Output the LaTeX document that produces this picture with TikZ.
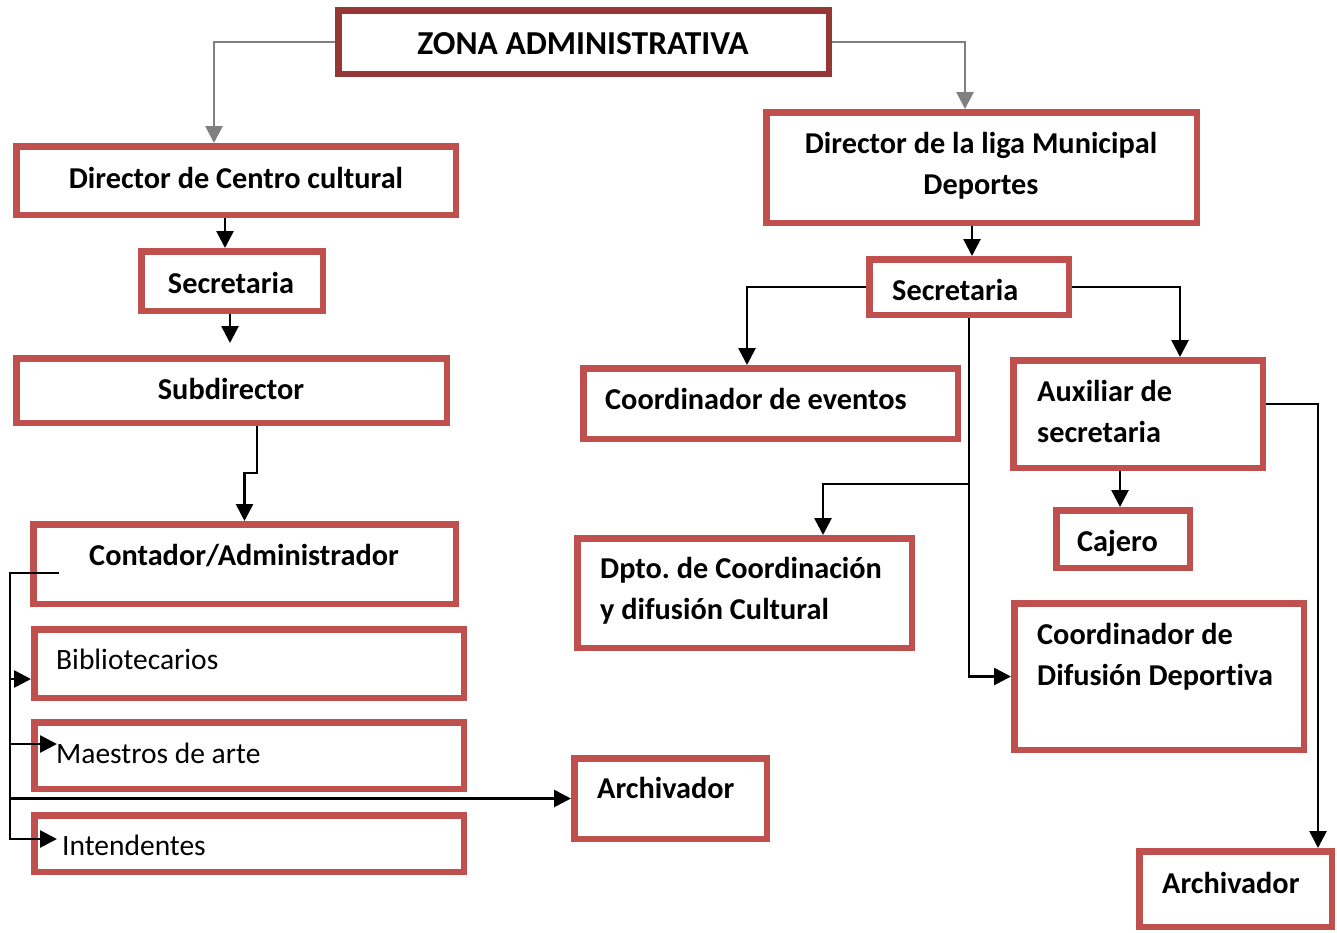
\documentclass[tikz,border=0pt]{standalone}
\usepackage{fontspec}
\setmainfont{Carlito}[Ligatures=NoCommon]
\usetikzlibrary{arrows.meta}
\definecolor{boxred}{HTML}{C0504D}
\definecolor{darkred}{HTML}{953735}
\definecolor{linegray}{HTML}{808080}
\frenchspacing
\begin{document}
\begin{tikzpicture}[x=1pt,y=-1pt,
    box/.style={draw=boxred, line width=6.5pt, inner sep=0pt},
    txt/.style={font=\fontsize{30.3}{41}\selectfont\bfseries, inner sep=0pt},
    plain/.style={font=\fontsize{29.5}{41}\selectfont, inner sep=0pt},
    arr/.style={line width=2.7pt, -{Triangle[length=17pt,width=17pt]}},
    grayarr/.style={arr, draw=linegray}]
   \useasboundingbox (0,0) rectangle (1337,932);

   % Top box
   \node[box, draw=darkred, minimum width=490.5pt, minimum height=63.5pt] (zona) at (583.5,42) {};
   \node[txt, font=\fontsize{33.5}{41}\selectfont\bfseries, anchor=base] (zonat) at (583,54) {ZONA ADMINISTRATIVA};

   % Centro cultural branch
   \node[box, minimum width=439.5pt, minimum height=68.5pt] (dcc) at (236,180.5) {};
   \node[box, minimum width=181.5pt, minimum height=59.5pt] (sec1) at (232,281) {};
   \node[box, minimum width=430.5pt, minimum height=64.5pt] (sub) at (231.5,390.5) {};
   \node[box, minimum width=422.5pt, minimum height=79.5pt] (cont) at (244.5,564) {};
   \node[box, minimum width=429.5pt, minimum height=68.5pt] (bib) at (249,663.5) {};
   \node[box, minimum width=429.5pt, minimum height=66.5pt] (maes) at (249,755.5) {};
   \node[box, minimum width=429.5pt, minimum height=56.5pt] (inten) at (249,843.5) {};
   \node[box, minimum width=192.5pt, minimum height=80.5pt] (arch1) at (670.5,798.5) {};

   \node[txt, anchor=base] (dcct) at (236,188) {Director de Centro cultural};
   \node[txt, anchor=base] (sec1t) at (231,293) {Secretaria};
   \node[txt, anchor=base] (subt) at (231,399) {Subdirector};
   \node[txt, anchor=base] (contt) at (244,565) {Contador/Administrador};
   \node[plain, anchor=base west] (bibt) at (56,669) {Bibliotecarios};
   \node[plain, anchor=base west] (maest) at (56,763) {Maestros de arte};
   \node[plain, anchor=base west] (intent) at (62,855) {Intendentes};
   \node[txt, anchor=base west] (arch1t) at (597,798) {Archivador};

   % Liga Municipal branch
   \node[box, minimum width=430.5pt, minimum height=110.5pt] (dlm) at (981.5,167.5) {};
   \node[box, minimum width=199.5pt, minimum height=55.5pt] (sec2) at (969,287) {};
   \node[box, minimum width=374.5pt, minimum height=70.5pt] (ceve) at (770.5,403.5) {};
   \node[box, minimum width=249.5pt, minimum height=107.5pt] (aux) at (1138,414) {};
   \node[box, minimum width=133.5pt, minimum height=57.5pt] (caj) at (1123,539) {};
   \node[box, minimum width=334.5pt, minimum height=109.5pt] (dpto) at (744.5,593) {};
   \node[box, minimum width=289.5pt, minimum height=146.5pt] (cdd) at (1159,676.5) {};
   \node[box, minimum width=192.5pt, minimum height=75.5pt] (arch2) at (1235.5,889) {};

   \node[txt, anchor=base, align=flush center, text width=420pt] (dlmt) at (981,153) {Director de la liga Municipal\\Deportes};
   \node[txt, anchor=base west] (sec2t) at (892,300) {Secretaria};
   \node[txt, anchor=base west] (cevet) at (605,409) {Coordinador de eventos};
   \node[txt, anchor=base west, align=flush left, text width=220pt] (auxt) at (1037,401) {Auxiliar de\\secretaria};
   \node[txt, anchor=base west] (cajt) at (1077,551) {Cajero};
   \node[txt, anchor=base west, align=flush left, text width=320pt] (dptot) at (600,578) {Dpto. de Coordinación\\y difusión Cultural};
   \node[txt, anchor=base west, align=flush left, text width=280pt] (cddt) at (1037,644) {Coordinador de\\Difusión Deportiva};
   \node[txt, anchor=base west] (arch2t) at (1162,893) {Archivador};

   % Connectors from the top
   \draw[grayarr] (zona.west) -| ([xshift=-22pt]dcc.north);
   \draw[grayarr] (zona.east) -| ([xshift=-16.5pt]dlm.north);

   % Left column
   \draw[arr] ([xshift=-11pt]dcc.south) -- ([xshift=-7pt]sec1.north);
   \draw[arr] ([xshift=-2pt]sec1.south) -- ([xshift=-1.5pt,yshift=12pt]sub.north);
   \draw[arr] ([xshift=25.5pt]sub.south) -- ++(0,47) -| (cont.north);

   % Bus under Contador
   \coordinate (bus) at ([xshift=-20pt]cont.west);
   \coordinate (b1) at ([yshift=-15.5pt]bib.west);
   \coordinate (b2) at ([xshift=26pt,yshift=11.5pt]maes.west);
   \coordinate (b4) at ([xshift=26pt,yshift=4.5pt]inten.west);
   \draw[arr] ([xshift=29pt,yshift=-9pt]cont.west) -| (bus |- b4) -- (b4);
   \draw[arr] (bus |- b1) -- (b1);
   \draw[arr] (bus |- b2) -- (b2);
   \draw[arr] (bus |- arch1.west) -- (arch1.west);

   % Right column
   \draw[arr] ([xshift=-9.5pt]dlm.south) -- ([xshift=3pt]sec2.north);
   \draw[arr] (sec2.west) -| ([xshift=-23.5pt]ceve.north);
   \draw[arr] (sec2.east) -| ([xshift=42pt]aux.north);
   \draw[arr] (sec2.south) |- (cdd.west);
   \coordinate (split) at ([yshift=-166pt]sec2.south);
   \draw[arr] (split) -| ([xshift=78.5pt]dpto.north);
   \draw[arr] ([xshift=-18pt]aux.south) -- ([xshift=-3pt]caj.north);
   \draw[arr] ([yshift=10pt]aux.east) -| ([xshift=82.5pt]arch2.north);
\end{tikzpicture}
\end{document}
